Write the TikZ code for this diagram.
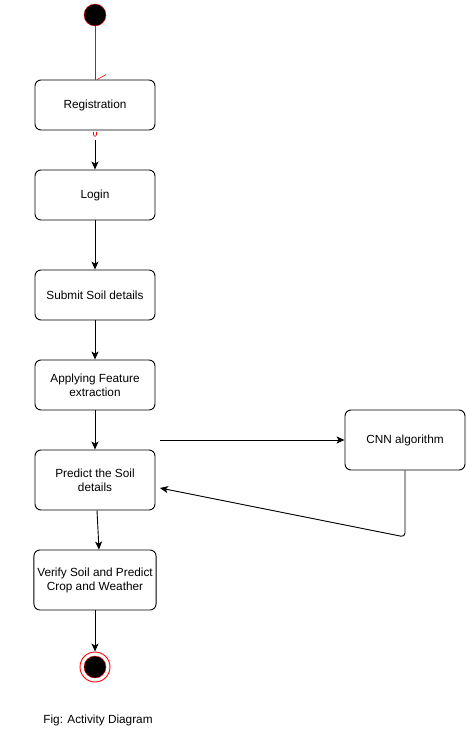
\documentclass[tikz,border=0pt]{standalone}
\usepackage{fontspec}
\setmainfont{Liberation Sans}
\usepackage{tikz}
\usetikzlibrary{arrows.meta}

\begin{document}
\begin{tikzpicture}[
  x=1pt, y=-1pt,
  activity/.style={
      rectangle,
      draw,
      rounded corners=6pt,
      line width=0.9pt,
      text centered,
      align=center,
      minimum height=50pt,
      minimum width=120pt,
      font=\fontsize{11.8}{14}\selectfont,
      fill=white
  },
  initial/.style={
      circle,
      draw=red,
      fill=black,
      minimum size=22pt,
      inner sep=0pt
  },
  arrow/.style={
      -{Stealth[length=8pt,width=7pt,inset=2pt]},
      line width=0.9pt
  }
]

\useasboundingbox (0,0) rectangle (466,739);

% ==================================================
% Start
% ==================================================

\node[initial] (start) at (95,15) {};

% ==================================================
% Main Activities
% ==================================================

\node[activity] (reg) at (95,105)
      {Registration};

\node[activity] (login) at (95,195)
      {Login};

\node[activity] (submit) at (95,295)
      {Submit Soil details};

\node[activity] (feat) at (95,385)
      {Applying Feature\\
       extraction};

\node[activity,
      minimum height=60pt]
      (pred) at (95,480)
      {Predict the Soil\\
       details};

\node[activity,
      minimum height=60pt]
      (verify) at (95,580)
      {Verify Soil and Predict\\
       Crop and Weather};

% ==================================================
% CNN
% ==================================================

\node[activity,
      minimum height=60pt]
      (cnn) at (405,440)
      {CNN algorithm};

% ==================================================
% End
% ==================================================

\node[circle,
      draw=red,
      line width=0.9pt,
      minimum size=30pt,
      inner sep=0pt]
      (final) at (95,667) {};

\node[initial] at (final) {};

\node[font=\fontsize{11.8}{14}\selectfont]
      (caption) at (98,720)
      {Fig: Activity Diagram};

% ==================================================
% Main Flow
% ==================================================

\draw[red, line width=0.8pt]
      (start.south)
      -- (reg.north);

\draw[red, line width=0.6pt]
      ([xshift=2pt]reg.north)
      -- ++(9,-5);

\draw[red, line width=0.6pt]
      ([xshift=-1.5pt,yshift=-1.5pt]reg.south)
      -- ++(0,3) arc[start angle=180, end angle=360, radius=1.5pt]
      -- ++(0,-3);

\draw[arrow, shorten <=10pt]
      (reg.south)
      -- (login.north);

\draw[arrow]
      (login.south)
      -- (submit.north);

\draw[arrow]
      (submit.south)
      -- (feat.north);

\draw[arrow]
      (feat.south)
      -- (pred.north);

\draw[arrow]
      ([xshift=2pt]pred.south)
      -- ([xshift=4pt]verify.north);

\draw[arrow]
      (verify.south)
      -- (final.north);

% ==================================================
% CNN Loop
% ==================================================

\coordinate (toCnn) at (160,440);
\coordinate (back) at (160,488);

\draw[arrow]
      (toCnn)
      -- (cnn.west);

\draw[arrow, rounded corners=4pt]
      (cnn.south)
      -- (405,537)
      -- (back);

\end{tikzpicture}
\end{document}
